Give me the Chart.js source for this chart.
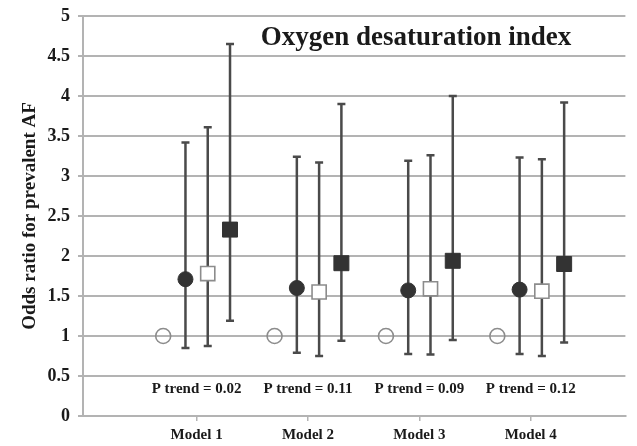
<!DOCTYPE html>
<html>
<head>
<meta charset="utf-8">
<script src="https://cdn.jsdelivr.net/npm/chart.js@4/dist/chart.umd.min.js"></script>
<style>
  html, body { margin: 0; padding: 0; background: #fff; }
  #wrap { width: 637px; height: 446px; }
</style>
</head>
<body>
<div id="wrap"><canvas id="c" width="637" height="446"></canvas></div>
<script>
// Odds ratios for prevalent AF across the oxygen desaturation index groups
const models = ['Model 1', 'Model 2', 'Model 3', 'Model 4'];
const modelPos = [1, 2, 3, 4];
const pTrend = ['0.02', '0.11', '0.09', '0.12'];
const yTicks = [0, 0.5, 1, 1.5, 2, 2.5, 3, 3.5, 4, 4.5, 5];

// reference group (OR = 1, no interval)
const refOR = [1, 1, 1, 1];

// second group
const g2OR = [1.71, 1.60, 1.57, 1.58];
const g2Lo = [0.85, 0.79, 0.775, 0.775];
const g2Hi = [3.42, 3.24, 3.19, 3.23];

// third group
const g3OR = [1.78, 1.55, 1.59, 1.56];
const g3Lo = [0.875, 0.75, 0.77, 0.75];
const g3Hi = [3.61, 3.17, 3.26, 3.21];

// highest group
const g4OR = [2.33, 1.91, 1.94, 1.90];
const g4Lo = [1.19, 0.94, 0.95, 0.92];
const g4Hi = [4.65, 3.90, 4.00, 3.92];

const groupOffset = [-0.3, -0.1, 0.1, 0.3];

function pts(values, gi) {
  return values.map((v, i) => ({ x: modelPos[i] + groupOffset[gi], y: v }));
}

const serif = "'Liberation Serif', 'Times New Roman', serif";
const gridColor = '#b3b3b3';

// vertical confidence-interval lines with small caps
const errorBars = {
  id: 'errorBars',
  beforeDatasetsDraw(chart) {
    const ctx = chart.ctx;
    const xs = chart.scales.x, ys = chart.scales.y;
    ctx.save();
    ctx.strokeStyle = '#4a4a4a';
    ctx.lineWidth = 2.5;
    chart.data.datasets.forEach((ds) => {
      if (!ds.lo) return;
      ds.data.forEach((p, i) => {
        const x = xs.getPixelForValue(p.x);
        const yl = ys.getPixelForValue(ds.lo[i]);
        const yh = ys.getPixelForValue(ds.hi[i]);
        ctx.beginPath();
        ctx.moveTo(x, yl); ctx.lineTo(x, yh);
        ctx.moveTo(x - 4, yl); ctx.lineTo(x + 4, yl);
        ctx.moveTo(x - 4, yh); ctx.lineTo(x + 4, yh);
        ctx.stroke();
      });
    });
    ctx.restore();
  }
};

// chart heading and per-model trend labels
const annotations = {
  id: 'annotations',
  afterDraw(chart) {
    const ctx = chart.ctx;
    const xs = chart.scales.x, ys = chart.scales.y;
    const a = chart.chartArea;
    ctx.save();
    ctx.fillStyle = '#1a1a1a';
    ctx.textAlign = 'center';
    ctx.textBaseline = 'middle';
    ctx.font = 'bold 27px ' + serif;
    ctx.fillText('Oxygen desaturation index', a.left + (a.right - a.left) * 0.614, a.top + 22);
    ctx.font = 'bold 15px ' + serif;
    pTrend.forEach((p, i) => {
      ctx.fillText('P trend = ' + p, xs.getPixelForValue(modelPos[i]), ys.getPixelForValue(0.34));
    });
    ctx.restore();
  }
};

new Chart(document.getElementById('c'), {
  type: 'scatter',
  data: {
    datasets: [
      {
        data: pts(refOR, 0),
        pointStyle: 'circle', pointRadius: 7.5,
        borderColor: '#8c8c8c', borderWidth: 1.6, backgroundColor: 'rgba(0,0,0,0)'
      },
      {
        data: pts(g2OR, 1), lo: g2Lo, hi: g2Hi,
        pointStyle: 'circle', pointRadius: 7.5,
        borderColor: '#333', borderWidth: 1, backgroundColor: '#333'
      },
      {
        data: pts(g3OR, 2), lo: g3Lo, hi: g3Hi,
        pointStyle: 'rect', pointRadius: 10,
        borderColor: '#8c8c8c', borderWidth: 1.6, backgroundColor: '#fff'
      },
      {
        data: pts(g4OR, 3), lo: g4Lo, hi: g4Hi,
        pointStyle: 'rect', pointRadius: 10.6,
        borderColor: '#333', borderWidth: 1, backgroundColor: '#333'
      }
    ]
  },
  options: {
    responsive: false,
    animation: false,
    events: [],
    layout: { padding: { top: 16, right: 0, left: 0, bottom: 0 } },
    plugins: { legend: { display: false }, tooltip: { enabled: false }, title: { display: false } },
    scales: {
      x: {
        type: 'linear',
        min: -0.02, max: 4.85,
        afterBuildTicks(scale) { scale.ticks = modelPos.map(v => ({ value: v })); },
        afterFit(scale) { scale.height = 30; },
        grid: { drawOnChartArea: false, drawTicks: true, tickLength: 5, color: gridColor, lineWidth: 1.5 },
        border: { display: true, color: gridColor, width: 2 },
        ticks: {
          autoSkip: false, maxRotation: 0, padding: 5,
          color: '#1a1a1a',
          font: { family: serif, size: 15, weight: 'bold' },
          callback: (v) => models[modelPos.indexOf(v)] || ''
        }
      },
      y: {
        min: 0, max: 5,
        afterBuildTicks(scale) { scale.ticks = yTicks.map(v => ({ value: v })); },
        afterFit(scale) { scale.width = 83; scale.paddingTop = 0; scale.paddingBottom = 0; },
        grid: { color: gridColor, lineWidth: 2, tickLength: 5 },
        border: { display: true, color: gridColor, width: 2 },
        ticks: {
          padding: 8,
          color: '#1a1a1a',
          font: { family: serif, size: 18, weight: 'bold' },
          callback: (v) => String(v)
        },
        title: {
          display: true,
          text: 'Odds ratio for prevalent AF',
          color: '#1a1a1a',
          font: { family: serif, size: 19, weight: 'bold' },
          padding: { top: 19, bottom: 0 }
        }
      }
    }
  },
  plugins: [errorBars, annotations]
});
</script>
</body>
</html>
